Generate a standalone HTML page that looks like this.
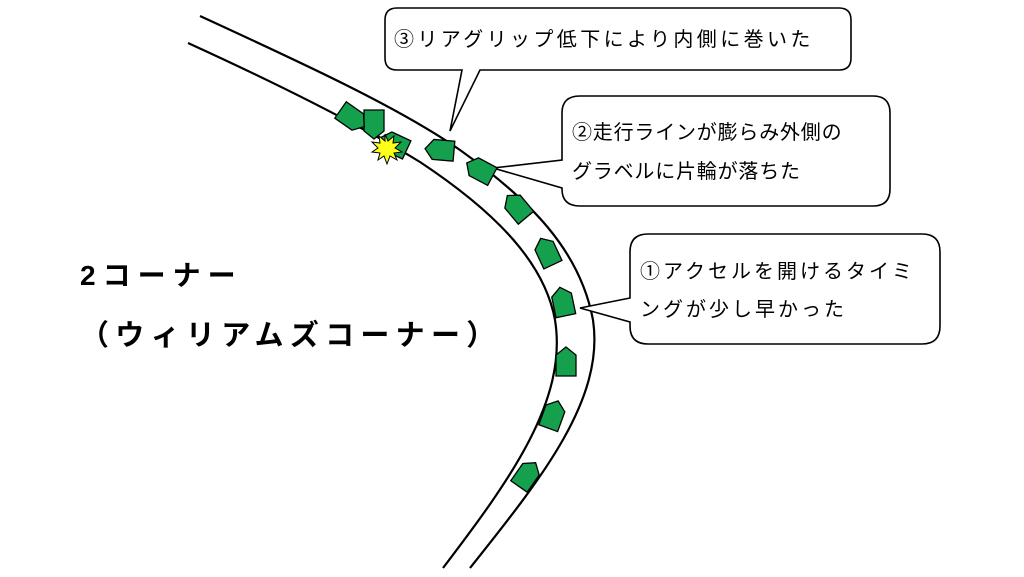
<!DOCTYPE html>
<html><head><meta charset="utf-8"><style>
body{margin:0;background:#fff;}
svg{display:block}
text{font-family:"Liberation Sans","Noto Sans CJK JP",sans-serif;fill:#000}
</style></head><body>
<svg width="1024" height="577" viewBox="0 0 1024 577" xmlns="http://www.w3.org/2000/svg">
<g fill="none" stroke="#000" stroke-width="2.2">
<path d="M200,16 C300,62 400,108 460,150 C530,200 580,250 593,320 C605,400 540,480 470,568"/>
<path d="M188,43 C280,85 360,125 420,162 C500,215 545,265 555,320 C568,400 510,480 443,568"/>
</g>
<g fill="#fff" stroke="#000" stroke-width="1.6">
<path d="M397,8 H839 Q851,8 851,20 V58 Q851,70 839,70 H480 L450,131 L462,70 H397 Q385,70 385,58 V20 Q385,8 397,8 Z"/>
<path d="M580,96 H873 Q890,96 890,113 V189 Q890,206 873,206 H580 Q562,206 562,189 V188 L493,168 L562,160 V113 Q562,96 580,96 Z"/>
<path d="M648,234 H922 Q940,234 940,252 V326 Q940,344 922,344 H648 Q630,344 630,326 V322 L580,308 L630,298 V252 Q630,234 648,234 Z"/>
</g>
<text x="394" y="46" font-size="20" letter-spacing="3.4">③リアグリップ低下により内側に巻いた</text>
<text x="572" y="139" font-size="20" letter-spacing="0.8">②走行ラインが膨らみ外側の</text>
<text x="572" y="178" font-size="20" letter-spacing="0.8">グラベルに片輪が落ちた</text>
<text x="640" y="278" font-size="20" letter-spacing="3">①アクセルを開けるタイミ</text>
<text x="640" y="316" font-size="20" letter-spacing="3">ングが少し早かった</text>
<text x="80" y="285" font-size="28" font-weight="bold" letter-spacing="7">2コーナー</text>
<text x="80" y="345" font-size="29" font-weight="bold" letter-spacing="6.3">（ウィリアムズコーナー）</text>
<defs><polygon id="car" points="0,-15 10,-7 10,14 -10,14 -10,-7" fill="#14a04c" stroke="#000" stroke-width="1.3"/></defs>
<use href="#car" transform="translate(527,475) rotate(35)"/>
<use href="#car" transform="translate(553,415) rotate(20)"/>
<use href="#car" transform="translate(566,362) rotate(0)"/>
<use href="#car" transform="translate(563,302) rotate(-12)"/>
<use href="#car" transform="translate(547,252) rotate(-25)"/>
<use href="#car" transform="translate(517,207) rotate(-40)"/>
<use href="#car" transform="translate(480,170) rotate(-62)"/>
<use href="#car" transform="translate(440,150) rotate(-85)"/>
<use href="#car" transform="translate(394,144) rotate(-65)"/>
<use href="#car" transform="translate(374,124) rotate(180)"/>
<use href="#car" transform="translate(352,118) rotate(125)"/>
<polygon points="385,134 388,141 394,136 393,143 401,142 395,148 402,152 394,153 397,160 390,156 387,164 384,156 378,160 380,153 372,152 378,148 372,142 380,143 379,136 385,141" fill="#ffff1a" stroke="#000" stroke-width="1"/>
</svg>
</body></html>
